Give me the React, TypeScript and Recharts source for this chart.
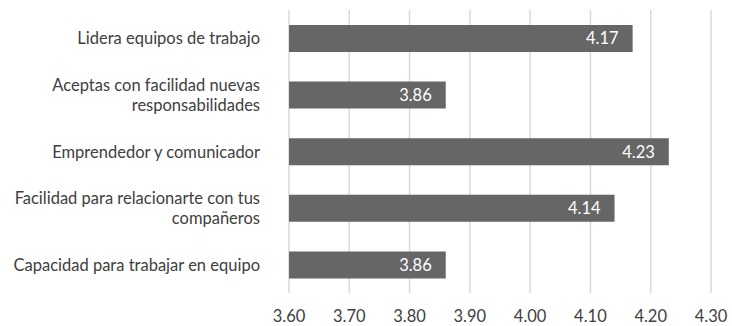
import { BarChart, Bar, XAxis, YAxis, CartesianGrid, LabelList } from "recharts";

// #region Sample data

const categories: string[][] = [
    ["Lidera equipos de trabajo"],
    ["Aceptas con facilidad nuevas", "responsabilidades"],
    ["Emprendedor y comunicador"],
    ["Facilidad para relacionarte con tus", "compañeros"],
    ["Capacidad para trabajar en equipo"],
];

const scores = [4.17, 3.86, 4.23, 4.14, 3.86];

const xTicks = [3.6, 3.7, 3.8, 3.9, 4.0, 4.1, 4.2, 4.3];

// #endregion

const data = categories.map((lines, i) => ({
    name: lines.join(" "),
    lines,
    value: scores[i],
}));

const FONT = "Lato, 'Open Sans', sans-serif";
const TEXT = "#404040";

const CategoryTick = (props: any) => {
    const { x, y, payload } = props;
    const lines: string[] = data[payload.index]?.lines ?? [payload.value];
    const lineHeight = 20;
    const startDy = -((lines.length - 1) * lineHeight) / 2;
    return (
        <text
            x={x - 21}
            y={y}
            textAnchor="end"
            fill={TEXT}
            fontSize={16.5}
            fontFamily={FONT}
        >
            {lines.map((line, i) => (
                <tspan key={i} x={x - 21} dy={i === 0 ? startDy + 6 : lineHeight}>
                    {line}
                </tspan>
            ))}
        </text>
    );
};

const App = () => {
    return (
        <div style={{ position: "absolute", left: 0, top: 0, width: 732, height: 326 }}>
            <BarChart
                width={732}
                height={326}
                data={data}
                layout="vertical"
                margin={{ top: 10, right: 21, bottom: 0, left: 0 }}
                barCategoryGap="26%"
            >
                <CartesianGrid horizontal={false} stroke="#d9d9d9" strokeWidth={1.5} />
                <XAxis
                    type="number"
                    domain={[3.6, 4.3]}
                    ticks={xTicks}
                    tickFormatter={(v: number) => v.toFixed(2)}
                    axisLine={false}
                    tickLine={false}
                    tickSize={0}
                    tickMargin={17}
                    height={33}
                    allowDataOverflow
                    tick={{ fill: TEXT, fontSize: 16.5, fontFamily: FONT }}
                />
                <YAxis
                    type="category"
                    dataKey="name"
                    width={289}
                    axisLine={false}
                    tickLine={false}
                    tick={<CategoryTick />}
                    interval={0}
                />
                <Bar dataKey="value" fill="#666666" barSize={27} isAnimationActive={false}>
                    <LabelList
                        dataKey="value"
                        position="insideRight"
                        offset={14}
                        fill="#ffffff"
                        fontSize={16.5}
                        fontFamily={FONT}
                        formatter={(v: any) => Number(v).toFixed(2)}
                    />
                </Bar>
            </BarChart>
        </div>
    );
};

export default App;
